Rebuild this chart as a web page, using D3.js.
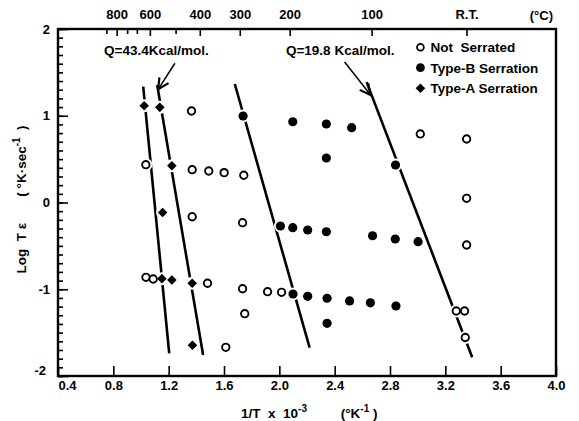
<!DOCTYPE html>
<html>
<head>
<meta charset="utf-8">
<script src="https://cdn.jsdelivr.net/npm/d3@7"></script>
<style>
  body { margin: 0; background: #fff; }
  svg { font-family: "Liberation Sans", Arial, sans-serif; font-weight: bold; }
  .axis text { font-size: 13px; font-family: "Liberation Sans", Arial, sans-serif; }
</style>
</head>
<body>
<div id="chart"></div>
<script>
"use strict";

// x = 1/T x 10^-3 (K^-1), y = log T*strain rate (K/sec)
const notSerrated = [
  [1.365, 1.055], [1.035, 0.436], [1.370, 0.378], [1.490, 0.363], [1.601, 0.344],
  [1.743, 0.314], [1.370, -0.164], [1.734, -0.233], [1.036, -0.862], [1.088, -0.882],
  [1.481, -0.931], [1.734, -0.994], [1.915, -1.028], [2.016, -1.035], [1.750, -1.282],
  [1.613, -1.669], [3.019, 0.790], [3.354, 0.732], [3.354, 0.048], [3.354, -0.490],
  [3.279, -1.251], [3.339, -1.251], [3.344, -1.556],
];
const typeB = [
  [1.738, 0.997], [2.097, 0.931], [2.340, 0.905], [2.523, 0.862], [2.340, 0.513],
  [2.840, 0.432], [2.008, -0.271], [2.097, -0.290], [2.205, -0.317], [2.340, -0.337],
  [2.674, -0.383], [2.838, -0.421], [3.003, -0.452], [2.099, -1.055], [2.205, -1.081],
  [2.345, -1.104], [2.508, -1.135], [2.658, -1.156], [2.843, -1.193], [2.345, -1.393],
];
const typeA = [
  [1.023, 1.116], [1.136, 1.097], [1.223, 0.424], [1.156, -0.115],
  [1.151, -0.878], [1.223, -0.893], [1.370, -0.931], [1.372, -1.646],
];

// activation energy lines (end points)
const fitLines = [
  [[1.016, 1.335], [1.204, -1.738]],
  [[1.117, 1.354], [1.449, -1.758]],
  [[1.678, 1.366], [2.219, -1.674]],
  [[2.631, 1.388], [3.394, -1.784]],
];
const qLabels = ["Q=43.4Kcal/mol.", "Q=19.8 Kcal/mol."];
const qArrows = [
  [[1.245, 1.605], [1.124, 1.305]],
  [[2.472, 1.620], [2.660, 1.239]],
];

const xTicks = [0.4, 0.8, 1.2, 1.6, 2.0, 2.4, 2.8, 3.2, 3.6, 4.0];
const yTicks = [-2, -1, 0, 1, 2];
const topTickLabels = ["800", "600", "400", "300", "200", "100", "R.T."];
const topTickAt = [0.824, 1.064, 1.425, 1.714, 2.075, 2.667, 3.353];
const topMinorAt = [0.75, 0.90, 0.97, 1.25];
const legendNames = ["Not  Serrated", "Type-B Serration", "Type-A Serration"];

const fullW = 579;
const fullH = 421;
const margin = { top: 29, right: 23, bottom: 45, left: 58 };
const width = fullW - margin.left - margin.right;
const height = fullH - margin.top - margin.bottom;

const svg = d3
  .select("#chart")
  .append("svg")
  .attr("width", fullW)
  .attr("height", fullH)
  .append("g")
  .attr("transform", "translate(" + margin.left + "," + margin.top + ")");

///////////////////////////////////
// scales and axes
///////////////////////////////////

const x = d3.scaleLinear().domain([0.4, 4.0]).range([0, width]);
const y = d3.scaleLinear().domain([-2, 2]).range([height, 0]);

const xAxis = svg
  .append("g")
  .attr("class", "axis")
  .attr("transform", "translate(0," + height + ")")
  .call(
    d3.axisBottom(x).tickValues(xTicks).tickSize(-10).tickPadding(5)
      .tickFormat(d3.format(".1f"))
  );
xAxis.selectAll("text").filter((d) => d === 0.4).attr("dx", 9);

svg
  .append("g")
  .attr("class", "axis")
  .call(d3.axisLeft(y).tickValues(d3.range(-2, 2.001, 0.1)).tickSize(-5).tickFormat(""));

const yAxis = svg
  .append("g")
  .attr("class", "axis")
  .call(
    d3.axisLeft(y).tickValues(yTicks).tickSize(-10).tickPadding(8)
      .tickFormat((d) => String(d))
  );
yAxis.selectAll("text").filter((d) => d === -2).attr("dy", "-0.1em").attr("dx", "-4");

svg
  .append("g")
  .attr("class", "axis")
  .call(
    d3.axisTop(x).tickValues(topTickAt).tickSize(-7).tickPadding(10)
      .tickFormat((d, i) => topTickLabels[i])
  );
svg
  .append("g")
  .attr("class", "axis")
  .call(d3.axisTop(x).tickValues(topMinorAt).tickSize(-5).tickFormat(""));

svg.selectAll(".axis .domain").remove();
svg.selectAll(".axis line").attr("stroke-width", 1.6);

svg
  .append("text")
  .attr("x", width - 3)
  .attr("y", -9)
  .attr("text-anchor", "end")
  .style("font-size", "13px")
  .text("(°C)");

// frame
svg
  .append("rect")
  .attr("width", width)
  .attr("height", height)
  .attr("fill", "none")
  .attr("stroke", "#000")
  .attr("stroke-width", 2.4);

///////////////////////////////////
// axis titles
///////////////////////////////////

const xTitle = svg
  .append("text")
  .attr("x", 183)
  .attr("y", 389)
  .style("font-size", "13.5px")
  .style("white-space", "pre");
xTitle.append("tspan").text("1/T  x  10");
xTitle.append("tspan").attr("dy", -6).style("font-size", "10px").text("-3");
xTitle.append("tspan").attr("dy", 6).text("         (°K");
xTitle.append("tspan").attr("dy", -6).style("font-size", "10px").text("-1");
xTitle.append("tspan").attr("dy", 6).text(" )");

const yTitle = svg
  .append("text")
  .attr("transform", "translate(-32," + (y(0) - 3) + ") rotate(-90)")
  .attr("text-anchor", "middle")
  .style("font-size", "13.5px")
  .style("white-space", "pre");
yTitle.append("tspan").text("Log  T ε       ( °K·sec");
yTitle.append("tspan").attr("dy", -6).style("font-size", "10px").text("-1");
yTitle.append("tspan").attr("dy", 6).text("  )");

///////////////////////////////////
// fit lines and annotations
///////////////////////////////////

const line = d3.line().x((d) => x(d[0])).y((d) => y(d[1]));

svg
  .selectAll(".fit")
  .data(fitLines)
  .enter()
  .append("path")
  .attr("class", "fit")
  .attr("d", line)
  .attr("fill", "none")
  .attr("stroke", "#000")
  .attr("stroke-width", 2.6);

svg
  .append("defs")
  .append("marker")
  .attr("id", "arrow")
  .attr("viewBox", "0 0 10 10")
  .attr("refX", 9)
  .attr("refY", 5)
  .attr("markerWidth", 9)
  .attr("markerHeight", 9)
  .attr("orient", "auto")
  .append("path")
  .attr("d", "M1,1 L9,5 L1,9")
  .attr("fill", "none")
  .attr("stroke", "#000")
  .attr("stroke-width", 1.6);

svg
  .selectAll(".arrow")
  .data(qArrows)
  .enter()
  .append("path")
  .attr("class", "arrow")
  .attr("d", line)
  .attr("stroke", "#000")
  .attr("stroke-width", 1.5)
  .attr("marker-end", "url(#arrow)");

svg
  .selectAll(".qlabel")
  .data(qLabels)
  .enter()
  .append("text")
  .attr("class", "qlabel")
  .attr("x", (d, i) => x([1.111, 2.44][i]))
  .attr("y", y(1.7))
  .attr("text-anchor", "middle")
  .style("font-size", "13.5px")
  .text((d) => d);

///////////////////////////////////
// data points
///////////////////////////////////

const allPts = notSerrated.concat(typeB, typeA);
svg
  .selectAll(".halo")
  .data(allPts)
  .enter()
  .append("circle")
  .attr("class", "halo")
  .attr("cx", (d) => x(d[0]))
  .attr("cy", (d) => y(d[1]))
  .attr("r", 6.5)
  .attr("fill", "#fff");

svg
  .selectAll(".open")
  .data(notSerrated)
  .enter()
  .append("circle")
  .attr("class", "open")
  .attr("cx", (d) => x(d[0]))
  .attr("cy", (d) => y(d[1]))
  .attr("r", 3.7)
  .attr("fill", "#fff")
  .attr("stroke", "#000")
  .attr("stroke-width", 1.9);

svg
  .selectAll(".typeB")
  .data(typeB)
  .enter()
  .append("circle")
  .attr("class", "typeB")
  .attr("cx", (d) => x(d[0]))
  .attr("cy", (d) => y(d[1]))
  .attr("r", 4.6)
  .attr("fill", "#000");

const diamond = d3.symbol().type(d3.symbolSquare).size(46);
svg
  .selectAll(".typeA")
  .data(typeA)
  .enter()
  .append("path")
  .attr("class", "typeA")
  .attr("d", diamond)
  .attr("transform", (d) => "translate(" + x(d[0]) + "," + y(d[1]) + ") rotate(45)")
  .attr("fill", "#000");

///////////////////////////////////
// legend
///////////////////////////////////

const legend = svg
  .append("g")
  .attr("transform", "translate(" + x(3.02) + "," + y(1.79) + ")");

const rows = legend
  .selectAll("g")
  .data(legendNames)
  .enter()
  .append("g")
  .attr("transform", (d, i) => "translate(0," + i * 20.5 + ")");

rows.append("text")
  .attr("x", 10)
  .attr("y", 5)
  .style("font-size", "13.5px")
  .style("white-space", "pre")
  .text((d) => d);

rows.filter((d, i) => i === 0).append("circle")
  .attr("r", 3.4).attr("fill", "#fff").attr("stroke", "#000").attr("stroke-width", 1.8);
rows.filter((d, i) => i === 1).append("circle")
  .attr("r", 4.4).attr("fill", "#000");
rows.filter((d, i) => i === 2).append("path")
  .attr("d", diamond).attr("transform", "rotate(45)").attr("fill", "#000");
</script>
</body>
</html>
